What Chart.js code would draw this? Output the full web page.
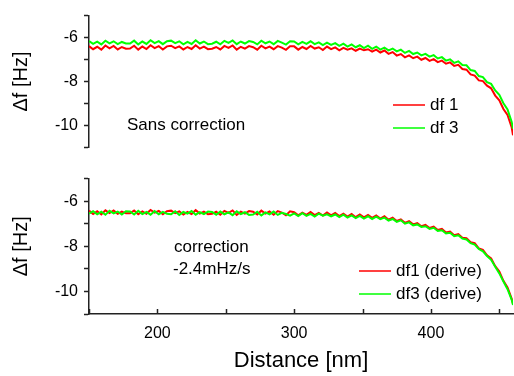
<!DOCTYPE html>
<html lang="fr">
<head>
  <meta charset="UTF-8" />
  <title>df vs distance</title>
  <script src="https://cdn.jsdelivr.net/npm/chart.js"></script>
  <style>
    body { margin: 0; background: #fff; }
    #wrap { position: relative; width: 514px; height: 376px; }
    canvas { position: absolute; left: 0; }
    #topChart { top: 0; }
    #bottomChart { top: 163px; }
  </style>
</head>
<body>
  <div id="wrap">
    <canvas id="topChart" width="514" height="163"></canvas>
    <canvas id="bottomChart" width="514" height="213"></canvas>
  </div>

  <script>
    // distance [nm]
    const distance = [
      150,153,156,159,162,165,168,171,174,177,
      180,183,186,189,192,195,198,201,204,207,
      210,213,216,219,222,225,228,231,234,237,
      240,243,246,249,252,255,258,261,264,267,
      270,273,276,279,282,285,288,291,294,297,
      300,303,306,309,312,315,318,321,324,327,
      330,333,336,339,342,345,348,351,354,357,
      360,363,366,369,372,375,378,381,384,387,
      390,393,396,399,402,405,408,411,414,417,
      420,423,426,429,432,435,438,441,444,447,
      450,453,456,459,460
    ];

    // top panel: sans correction
    const topDf1 = [
      -6.39,-6.53,-6.42,-6.55,-6.36,-6.49,-6.38,-6.54,-6.43,-6.51,
      -6.50,-6.37,-6.55,-6.41,-6.52,-6.35,-6.48,-6.39,-6.54,-6.40,
      -6.37,-6.48,-6.40,-6.54,-6.43,-6.52,-6.35,-6.50,-6.41,-6.53,
      -6.51,-6.43,-6.54,-6.38,-6.47,-6.36,-6.55,-6.42,-6.50,-6.39,
      -6.44,-6.55,-6.37,-6.49,-6.41,-6.53,-6.39,-6.46,-6.56,-6.40,
      -6.40,-6.55,-6.43,-6.52,-6.38,-6.50,-6.44,-6.57,-6.41,-6.53,
      -6.45,-6.58,-6.47,-6.55,-6.49,-6.60,-6.50,-6.58,-6.53,-6.64,
      -6.55,-6.68,-6.59,-6.74,-6.66,-6.82,-6.75,-6.90,-6.81,-6.94,
      -6.87,-7.01,-6.93,-7.06,-6.98,-7.12,-7.05,-7.19,-7.13,-7.29,
      -7.24,-7.43,-7.46,-7.68,-7.73,-7.95,-7.98,-8.19,-8.31,-8.64,
      -8.86,-9.25,-9.52,-10.08,-10.45
    ];
    const topDf3 = [
      -6.16,-6.29,-6.19,-6.31,-6.14,-6.26,-6.17,-6.30,-6.20,-6.27,
      -6.27,-6.14,-6.31,-6.18,-6.29,-6.12,-6.25,-6.16,-6.30,-6.17,
      -6.14,-6.25,-6.17,-6.31,-6.20,-6.29,-6.12,-6.27,-6.18,-6.30,
      -6.28,-6.19,-6.31,-6.15,-6.24,-6.13,-6.30,-6.18,-6.27,-6.16,
      -6.20,-6.31,-6.14,-6.26,-6.18,-6.30,-6.15,-6.23,-6.32,-6.17,
      -6.18,-6.31,-6.20,-6.29,-6.17,-6.30,-6.22,-6.34,-6.23,-6.33,
      -6.25,-6.38,-6.28,-6.41,-6.31,-6.44,-6.35,-6.48,-6.37,-6.51,
      -6.41,-6.55,-6.46,-6.58,-6.50,-6.63,-6.55,-6.70,-6.61,-6.75,
      -6.68,-6.81,-6.74,-6.87,-6.80,-6.95,-6.89,-7.05,-6.99,-7.15,
      -7.08,-7.25,-7.26,-7.48,-7.52,-7.75,-7.80,-8.03,-8.11,-8.41,
      -8.61,-8.99,-9.27,-9.83,-10.15
    ];

    // bottom panel: correction -2.4mHz/s
    const botDf1 = [
      -6.42,-6.57,-6.45,-6.59,-6.40,-6.53,-6.41,-6.56,-6.46,-6.54,
      -6.54,-6.41,-6.58,-6.45,-6.56,-6.39,-6.51,-6.43,-6.58,-6.44,
      -6.42,-6.53,-6.45,-6.59,-6.48,-6.57,-6.40,-6.55,-6.46,-6.58,
      -6.56,-6.47,-6.60,-6.43,-6.52,-6.41,-6.61,-6.47,-6.55,-6.44,
      -6.47,-6.59,-6.42,-6.55,-6.46,-6.60,-6.44,-6.51,-6.62,-6.45,
      -6.49,-6.63,-6.51,-6.61,-6.48,-6.62,-6.52,-6.64,-6.50,-6.63,
      -6.52,-6.66,-6.55,-6.68,-6.57,-6.71,-6.59,-6.72,-6.61,-6.74,
      -6.63,-6.77,-6.67,-6.82,-6.73,-6.88,-6.81,-6.96,-6.89,-7.03,
      -6.97,-7.11,-7.05,-7.19,-7.13,-7.28,-7.23,-7.39,-7.35,-7.51,
      -7.46,-7.62,-7.64,-7.82,-7.86,-8.09,-8.16,-8.40,-8.54,-8.88,
      -9.12,-9.53,-9.82,-10.32,-10.55
    ];
    const botDf3 = [
      -6.55,-6.44,-6.58,-6.47,-6.60,-6.43,-6.54,-6.46,-6.59,-6.45,
      -6.46,-6.59,-6.43,-6.57,-6.48,-6.60,-6.44,-6.58,-6.47,-6.56,
      -6.58,-6.45,-6.61,-6.48,-6.55,-6.44,-6.60,-6.49,-6.57,-6.46,
      -6.48,-6.60,-6.46,-6.58,-6.50,-6.62,-6.45,-6.57,-6.49,-6.61,
      -6.59,-6.47,-6.63,-6.50,-6.58,-6.46,-6.61,-6.52,-6.57,-6.64,
      -6.54,-6.66,-6.53,-6.65,-6.56,-6.68,-6.55,-6.64,-6.58,-6.67,
      -6.59,-6.71,-6.60,-6.73,-6.63,-6.75,-6.65,-6.77,-6.67,-6.79,
      -6.69,-6.80,-6.73,-6.86,-6.79,-6.92,-6.85,-7.00,-6.94,-7.07,
      -7.03,-7.14,-7.11,-7.23,-7.18,-7.32,-7.29,-7.43,-7.40,-7.55,
      -7.51,-7.66,-7.70,-7.86,-7.92,-8.12,-8.22,-8.43,-8.60,-8.91,
      -9.20,-9.56,-9.90,-10.36,-10.60
    ];

    const yLabels = [-6, -8, -10];
    const xLabels = [200, 300, 400];

    const FONT = '"Liberation Sans", Arial, sans-serif';
    const AXIS = '#222';

    function pts(ys) {
      return distance.map((x, i) => ({ x: x, y: ys[i] }));
    }

    // in-plot legend, text notes, and inward x ticks
    const notesPlugin = {
      id: 'notes',
      afterDraw(chart, args, opts) {
        const ctx = chart.ctx;
        ctx.save();
        if (opts.innerTicks) {
          const xs = chart.scales.x;
          const y0 = chart.chartArea.bottom;
          ctx.strokeStyle = AXIS;
          ctx.lineWidth = 1.5;
          xs.ticks.forEach(t => {
            const px = Math.round(xs.getPixelForValue(t.value)) + 0.5;
            ctx.beginPath();
            ctx.moveTo(px, y0);
            ctx.lineTo(px, y0 - 5);
            ctx.stroke();
          });
        }
        ctx.font = '17px ' + FONT;
        ctx.fillStyle = '#000';
        ctx.textBaseline = 'middle';
        ctx.textAlign = 'left';
        opts.texts.forEach(t => ctx.fillText(t.text, t.x, t.y));
        opts.legend.forEach((l, i) => {
          const ds = chart.data.datasets[i];
          ctx.strokeStyle = ds.borderColor;
          ctx.lineWidth = 1.5;
          ctx.beginPath();
          ctx.moveTo(l.x, l.y);
          ctx.lineTo(l.x + 32, l.y);
          ctx.stroke();
          ctx.fillText(ds.label, l.x + 37, l.y);
        });
        ctx.restore();
      }
    };

    function makePanel(id, red, green, names, showX, padding, notes) {
      const ctx = document.getElementById(id).getContext('2d');
      return new Chart(ctx, {
        type: 'line',
        data: {
          datasets: [
            { label: names[0], data: pts(red), borderColor: '#ff0000', borderWidth: 2, pointRadius: 0, tension: 0, order: 1 },
            { label: names[1], data: pts(green), borderColor: '#00ff00', borderWidth: 2, pointRadius: 0, tension: 0, order: 0 }
          ]
        },
        options: {
          responsive: false,
          animation: false,
          layout: { padding: padding },
          plugins: {
            legend: { display: false },
            tooltip: { enabled: false },
            notes: notes
          },
          scales: {
            x: {
              type: 'linear',
              display: showX,
              min: 150,
              max: 460,
              afterFit: s => { s.height = showX ? 62 : 0; },
              border: { display: true, color: AXIS, width: 1.5 },
              grid: { drawOnChartArea: false, drawTicks: false },
              ticks: {
                stepSize: 50,
                includeBounds: false,
                maxRotation: 0,
                autoSkip: false,
                padding: 10,
                color: '#000',
                font: { family: FONT, size: 16 },
                callback: v => xLabels.includes(v) ? String(v) : ''
              },
              title: {
                display: true,
                text: 'Distance [nm]',
                color: '#000',
                font: { family: FONT, size: 22 },
                padding: { top: 0, bottom: 2 }
              }
            },
            y: {
              min: -11,
              max: -5,
              afterFit: s => { s.width = 89; },
              border: { display: true, color: AXIS, width: 1.5 },
              grid: { drawOnChartArea: false, tickLength: 5, tickColor: AXIS, tickWidth: 1.5 },
              ticks: {
                stepSize: 1,
                autoSkip: false,
                padding: 6,
                color: '#000',
                font: { family: FONT, size: 16 },
                callback: v => yLabels.includes(v) ? String(v) : ''
              },
              title: {
                display: true,
                text: 'Δf [Hz]',
                color: '#000',
                font: { family: FONT, size: 20 },
                padding: { top: 9, bottom: 0 }
              }
            }
          }
        },
        plugins: [notesPlugin]
      });
    }

    makePanel('topChart', topDf1, topDf3, ['df 1', 'df 3'], false,
      { top: 12, bottom: 11, left: 0, right: 1 },
      {
        innerTicks: false,
        texts: [{ text: 'Sans correction', x: 127, y: 125 }],
        legend: [{ x: 393, y: 105 }, { x: 393, y: 128 }]
      });

    makePanel('bottomChart', botDf1, botDf3, ['df1 (derive)', 'df3 (derive)'], true,
      { top: 10, bottom: 0, left: 0, right: 1 },
      {
        innerTicks: true,
        texts: [
          { text: 'correction', x: 174, y: 84 },
          { text: '-2.4mHz/s', x: 173, y: 106 }
        ],
        legend: [{ x: 359, y: 108 }, { x: 359, y: 131 }]
      });
  </script>
</body>
</html>
